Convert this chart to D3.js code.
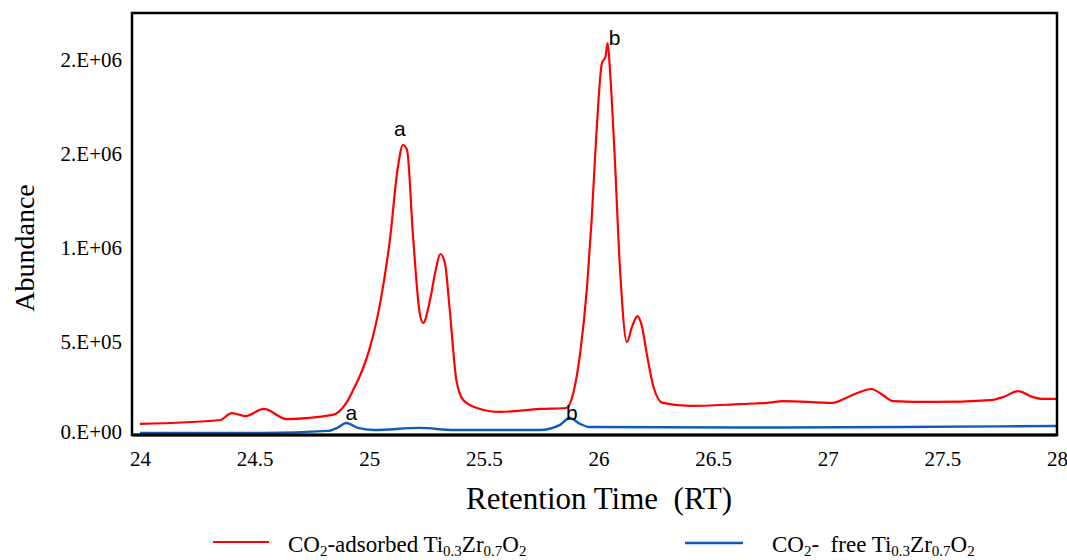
<!DOCTYPE html>
<html>
<head>
<meta charset="utf-8">
<script src="https://cdn.jsdelivr.net/npm/d3@7"></script>
<style>
  html, body { margin: 0; padding: 0; background: #fff; }
  svg { display: block; }
  text { white-space: pre; }
  .serif { font-family: "Liberation Serif", "Times New Roman", Times, "DejaVu Serif", serif; }
  .sans { font-family: Arial, "Liberation Sans", sans-serif; }
</style>
</head>
<body>
<svg id="chart" width="1067" height="560"></svg>
<script>
// ---- data ----
const redTime = [24.00,24.35,24.40,24.46,24.54,24.64,24.84,24.90,24.93,24.97,25.00,25.05,25.09,25.125,25.147,25.165,25.19,25.22,25.235,25.265,25.29,25.31,25.33,25.35,25.38,25.41,25.47,25.57,25.745,25.86,25.89,25.92,25.95,25.97,25.99,26.015,26.03,26.04,26.05,26.07,26.094,26.124,26.146,26.17,26.19,26.21,26.24,26.28,26.40,26.62,26.735,26.805,27.02,27.08,27.14,27.19,27.24,27.285,27.46,27.71,27.765,27.83,27.895,27.94,28.00];
const redValue = [64000,85000,122000,106000,144000,90000,112000,176000,245000,351000,458000,723000,1043000,1431000,1548000,1521000,1080000,654000,601000,723000,883000,968000,920000,686000,298000,191000,149000,128000,144000,149000,229000,441000,793000,1149000,1590000,1984000,2016000,2090000,1947000,1505000,883000,500000,580000,638000,580000,441000,261000,176000,160000,170000,176000,186000,176000,202000,234000,250000,218000,186000,181000,191000,207000,239000,207000,197000,197000];

const blueTime = [24.00,24.54,24.82,24.86,24.90,24.95,25.02,25.22,25.37,25.745,25.83,25.875,25.92,25.96,26.62,27.32,28.00];
const blueValue = [16000,16000,27000,43000,69000,43000,32000,43000,32000,32000,58000,96000,64000,48000,45000,48000,53000];

const xTicks = [24,24.5,25,25.5,26,26.5,27,27.5,28];
const xTickLabels = ["24","24.5","25","25.5","26","26.5","27","27.5","28"];
const yTicks = [0,500000,1000000,1500000,2000000];
const yTickLabels = ["0.E+00","5.E+05","1.E+06","2.E+06","2.E+06"];

const peakNames = ["a","b","a","b"];
const peakTimes = [25.147, 26.04, 24.90, 25.875];
const peakValues = [1548000, 2090000, 69000, 96000];

// ---- layout ----
const svg = d3.select("#chart");
const frame = {left:132, right:1057, top:13, bottom:435};
const x = d3.scaleLinear().domain([24,28]).range([140,1057]);
const y = d3.scaleLinear().domain([0,2250000]).range([436,13]);

const line = d3.line().x(d=>x(d[0])).y(d=>y(d[1])).curve(d3.curveMonotoneX);
const red = redTime.map((t,i)=>[t,redValue[i]]);
const blue = blueTime.map((t,i)=>[t,blueValue[i]]);

svg.append("path").datum(blue).attr("d",line)
  .attr("fill","none").attr("stroke","#0f5cb8").attr("stroke-width",2.4);
svg.append("path").datum(red).attr("d",line)
  .attr("fill","none").attr("stroke","#ff0000").attr("stroke-width",2.2);

// frame
svg.append("rect")
  .attr("x",frame.left).attr("y",frame.top)
  .attr("width",frame.right-frame.left).attr("height",frame.bottom-frame.top)
  .attr("fill","none").attr("stroke","#000").attr("stroke-width",2.5);
svg.append("line")
  .attr("x1",frame.left).attr("x2",frame.right)
  .attr("y1",frame.bottom).attr("y2",frame.bottom)
  .attr("stroke","#000").attr("stroke-width",3);

// axes (labels only, no tick marks)
const xAxis = d3.axisBottom(x).tickValues(xTicks)
  .tickFormat((d,i)=>xTickLabels[i]).tickSize(0).tickPadding(0);
const gx = svg.append("g").attr("transform",`translate(0,${frame.bottom+16})`).call(xAxis);
gx.attr("font-family",null).attr("font-size",null);
gx.select(".domain").remove();
gx.selectAll("text").attr("class","serif")
  .style("font-size","21px").attr("fill","#000").attr("dy","0.71em");

const yAxis = d3.axisLeft(y).tickValues(yTicks)
  .tickFormat((d,i)=>yTickLabels[i]).tickSize(0).tickPadding(0);
const gy = svg.append("g").attr("transform",`translate(122,0)`).call(yAxis);
gy.attr("font-family",null).attr("font-size",null);
gy.select(".domain").remove();
gy.selectAll("text").attr("class","serif")
  .style("font-size","21px").attr("fill","#000");
gy.selectAll(".tick").filter(d=>d===0).select("text").attr("dy","0.1em");

// peak labels (offsets relative to the peak point)
const peakDx = [-3, 7, 5, 2];
const peakDy = [-9, 2, -3, 2];
svg.selectAll("text.peak").data(peakNames).enter().append("text")
  .attr("class","peak sans")
  .attr("x",(d,i)=>x(peakTimes[i]) + peakDx[i])
  .attr("y",(d,i)=>y(peakValues[i]) + peakDy[i])
  .attr("text-anchor","middle")
  .style("font-size","21px").attr("fill","#000")
  .text(d=>d);

// axis titles
svg.append("text").attr("class","serif").attr("x",599).attr("y",509).attr("text-anchor","middle")
  .style("font-size","31px").attr("fill","#000").text("Retention Time  (RT)");
svg.append("text").attr("class","serif").attr("transform","translate(34,248) rotate(-90)")
  .attr("text-anchor","middle")
  .style("font-size","28px").attr("fill","#000").text("Abundance");

// legend
const legendItems = [
  {color:"#ff0000", width:2.2, x1:213, x2:269, ly:542, tx:288,
   parts:[["CO",0],["2",1],["-adsorbed Ti",0],["0.3",1],["Zr",0],["0.7",1],["O",0],["2",1]]},
  {color:"#0f5cb8", width:2.6, x1:685, x2:743, ly:543, tx:772,
   parts:[["CO",0],["2",1],["-  free Ti",0],["0.3",1],["Zr",0],["0.7",1],["O",0],["2",1]]}
];
legendItems.forEach(it=>{
  svg.append("line").attr("x1",it.x1).attr("x2",it.x2).attr("y1",it.ly).attr("y2",it.ly)
    .attr("stroke",it.color).attr("stroke-width",it.width);
  const t = svg.append("text").attr("class","serif").attr("x",it.tx).attr("y",552)
    .style("font-size","23px").attr("fill","#000");
  let prevSub = 0;
  it.parts.forEach(p=>{
    const ts = t.append("tspan").text(p[0]);
    const shift = (p[1]?4:0) - (prevSub?4:0);
    if (shift!==0) ts.attr("dy",shift);
    if (p[1]) ts.style("font-size","15px");
    prevSub = p[1];
  });
});
</script>
</body>
</html>
